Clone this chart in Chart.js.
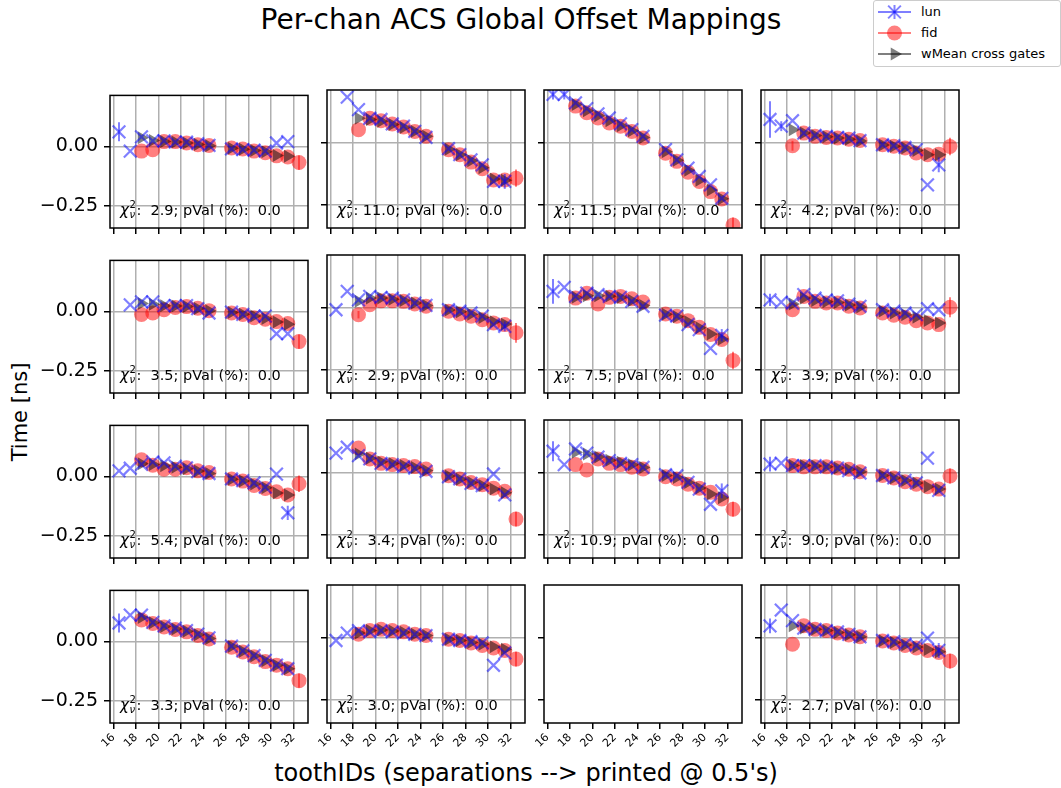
<!DOCTYPE html>
<html>
<head>
<meta charset="utf-8">
<title>Per-chan ACS Global Offset Mappings</title>
<script src="https://cdn.jsdelivr.net/npm/chart.js@4.4.1/dist/chart.umd.min.js"></script>
<style>
  html, body { margin: 0; padding: 0; background: #fff; }
  #fig { position: relative; width: 1061px; height: 788px; overflow: hidden; font-family: 'DejaVu Sans', sans-serif; color: #000; }
  #fig canvas.panel { position: absolute; }
  .lbl { position: absolute; white-space: nowrap; }
  #title { left: 0; width: 1042px; top: 4px; text-align: center; font-size: 28px; line-height: 32px; }
  #xlabel { left: 0; width: 1052px; top: 759px; text-align: center; font-size: 24px; line-height: 28px; }
  #ylabel { left: 20px; top: 412px; font-size: 21px; transform: translate(-50%, -50%) rotate(-90deg); }
  #legend { position: absolute; left: 873px; top: 0px; width: 186px; height: 65px; border: 1px solid #ccc; border-radius: 3px; background: rgba(255,255,255,0.8); }
  #legend canvas { position: absolute; left: 0; top: 0; }
  #legend .item { position: absolute; left: 47px; font-size: 13px; line-height: 13px; }
</style>
</head>
<body>
<div id="fig">
  <div id="title" class="lbl">Per-chan ACS Global Offset Mappings</div>
  <div id="xlabel" class="lbl">toothIDs (separations --&gt; printed @ 0.5's)</div>
  <div id="ylabel" class="lbl">Time [ns]</div>
  <div id="legend">
    <canvas id="legendHandles" width="46" height="65"></canvas>
    <div class="item" style="top:4px">lun</div>
    <div class="item" style="top:25px">fid</div>
    <div class="item" style="top:46px">wMean cross gates</div>
  </div>
</div>
<script>
// tooth separations (x), 25.5 is never filled
const teeth = [16.5, 17.5, 18.5, 19.5, 20.5, 21.5, 22.5, 23.5, 24.5, 25.5, 26.5, 27.5, 28.5, 29.5, 30.5, 31.5, 32.5];
const xTicks = [16, 18, 20, 22, 24, 26, 28, 30, 32];
const yTicks = [0, -0.25];

// one row per channel panel (row-major, 4x4); slot 14 is empty
const lunTimes = [
  [.061, -.020, .040, .023, .023, .018, .018, .011, .004, null, -.011, -.014, -.016, -.020, .014, .020, null],
  [null, .185, .135, .100, .095, .077, .068, .047, .023, null, -.023, -.047, -.068, -.088, -.155, -.155, null],
  [.196, .196, .162, .139, .118, .101, .077, .054, .027, null, -.027, -.068, -.101, -.135, -.169, -.223, null],
  [.095, .068, .090, .040, .031, .027, .023, .020, .010, null, -.007, -.011, -.018, -.027, -.169, -.088, null],
  [null, .027, .040, .040, .024, .024, .024, .011, -.007, null, -.003, -.013, -.020, -.020, -.094, -.094, null],
  [-.007, .067, .033, .047, .043, .040, .033, .020, .011, null, -.007, -.013, -.020, -.033, -.067, -.074, null],
  [.067, .083, .047, .060, .054, .047, .043, .027, .007, null, -.029, -.033, -.067, -.087, -.163, -.110, null],
  [.033, .024, .020, .054, .040, .033, .029, .016, .007, null, -.007, -.013, -.020, -.027, -.003, -.007, null],
  [.023, .034, .050, .061, .057, .043, .036, .020, .012, null, -.011, -.018, -.028, -.045, .009, -.153, null],
  [.080, .104, .070, .057, .039, .034, .026, .020, .007, null, -.015, -.024, -.042, -.051, -.004, -.088, null],
  [.088, .034, .097, .080, .064, .050, .039, .034, .023, null, -.007, -.011, -.038, -.065, -.126, -.072, null],
  [.036, .040, .030, .030, .030, .025, .020, .010, .000, null, -.010, -.020, -.030, -.040, .060, -.070, null],
  [.077, .110, .110, .080, .065, .055, .045, .030, .015, null, -.020, -.040, -.060, -.080, -.100, -.115, null],
  [-.010, .020, .030, .025, .030, .025, .020, .015, .010, null, -.005, -.010, -.015, -.020, -.110, -.060, null],
  null,
  [.049, .113, .070, .040, .035, .030, .025, .015, .005, null, -.010, -.015, -.025, -.030, .000, -.050, null]
];
const fidTimes = [
  [null, null, -.020, -.014, .020, .020, .014, .007, .004, null, -.007, -.011, -.020, -.027, -.040, -.045, -.068],
  [null, null, .054, .100, .090, .077, .065, .047, .027, null, -.027, -.047, -.077, -.104, -.149, -.149, -.142],
  [null, null, .149, .122, .101, .081, .068, .047, .020, null, -.041, -.074, -.118, -.155, -.196, -.226, -.331],
  [null, null, -.011, .040, .027, .022, .020, .015, .010, null, -.007, -.013, -.020, -.040, -.047, -.045, -.014],
  [null, null, -.013, -.007, .007, .016, .020, .013, .003, null, -.007, -.013, -.027, -.033, -.043, -.051, -.127],
  [null, null, -.027, .013, .029, .029, .027, .016, .007, null, -.013, -.024, -.033, -.047, -.060, -.067, -.100],
  [null, null, .040, .060, .016, .043, .047, .037, .024, null, -.024, -.033, -.051, -.078, -.107, -.127, -.212],
  [null, null, -.007, .047, .027, .020, .020, .007, .000, null, -.020, -.029, -.037, -.051, -.060, -.067, .003],
  [null, null, .070, .047, .030, .030, .036, .023, .016, null, -.011, -.020, -.038, -.051, -.065, -.078, -.031],
  [null, null, .101, .057, .039, .034, .030, .026, .016, null, -.011, -.024, -.038, -.047, -.061, -.074, -.186],
  [null, null, .034, .012, .057, .039, .034, .023, .016, null, -.015, -.024, -.045, -.061, -.078, -.105, -.146],
  [null, null, .030, .025, .025, .025, .020, .015, .005, null, -.010, -.020, -.035, -.045, -.055, -.065, -.012],
  [null, null, .090, .075, .060, .050, .040, .025, .010, null, -.025, -.045, -.065, -.085, -.100, -.115, -.165],
  [null, null, .015, .030, .035, .030, .025, .015, .010, null, -.005, -.010, -.020, -.030, -.040, -.050, -.085],
  null,
  [null, null, -.025, .050, .035, .030, .020, .012, .005, null, -.012, -.020, -.030, -.040, -.050, -.058, -.093]
];
const wMeanTimes = [
  [null, null, .036, .025, .020, .018, .014, .008, .003, null, -.008, -.012, -.017, -.023, -.038, -.042, null],
  [null, null, .100, .095, .088, .075, .063, .047, .027, null, -.025, -.047, -.072, -.100, -.145, -.150, null],
  [null, null, .155, .130, .110, .090, .070, .050, .022, null, -.035, -.070, -.110, -.150, -.190, -.225, null],
  [null, null, .054, .040, .030, .025, .020, .015, .008, null, -.008, -.013, -.020, -.030, -.047, -.047, null],
  [null, null, .033, .030, .024, .022, .020, .012, .002, null, -.005, -.012, -.020, -.030, -.045, -.054, null],
  [null, null, .027, .040, .040, .035, .030, .020, .010, null, -.008, -.015, -.025, -.038, -.055, -.065, null],
  [null, null, .043, .050, .050, .048, .042, .030, .010, null, -.025, -.035, -.055, -.080, -.105, -.125, null],
  [null, null, .016, .040, .030, .025, .022, .012, .004, null, -.012, -.020, -.027, -.037, -.050, -.060, null],
  [null, null, .053, .050, .045, .038, .032, .022, .012, null, -.012, -.020, -.032, -.048, -.070, -.078, null],
  [null, null, .077, .060, .045, .038, .030, .022, .010, null, -.012, -.025, -.038, -.050, -.065, -.080, null],
  [null, null, .084, .077, .065, .052, .043, .033, .022, null, -.010, -.018, -.038, -.060, -.085, -.100, null],
  [null, null, .030, .030, .028, .025, .020, .015, .005, null, -.010, -.020, -.030, -.040, -.055, -.065, null],
  [null, null, .100, .078, .062, .052, .042, .028, .012, null, -.022, -.042, -.062, -.082, -.100, -.115, null],
  [null, null, .020, .030, .032, .028, .023, .015, .010, null, -.005, -.010, -.018, -.025, -.035, -.045, null],
  null,
  [null, null, .050, .040, .035, .030, .022, .013, .005, null, -.011, -.018, -.028, -.036, -.046, -.055, null]
];
// visible error bars, keyed by index into teeth
const lunErrs = [
  {0: .04}, {15: .03}, {0: .02, 1: .02}, {0: .074, 1: .02, 15: .03},
  {}, {15: .02}, {0: .05, 15: .025}, {0: .025},
  {15: .03}, {}, {0: .04, 15: .03}, {0: .03},
  {0: .04}, {}, null, {0: .03, 15: .03}
];
const fidErrs = [
  {16: .03}, {16: .035}, {16: .03}, {2: .02, 16: .035},
  {16: .03}, {2: .015, 16: .04}, {16: .035}, {16: .04},
  {16: .035}, {16: .03}, {16: .03}, {16: .03},
  {16: .03}, {16: .03}, null, {16: .03}
];
const chi2 = [2.9, 11.0, 11.5, 4.2, 3.5, 2.9, 7.5, 3.9, 5.4, 3.4, 10.9, 9.0, 3.3, 3.0, null, 2.7];
const pVal = [0.0, 0.0, 0.0, 0.0, 0.0, 0.0, 0.0, 0.0, 0.0, 0.0, 0.0, 0.0, 0.0, 0.0, null, 0.0];

// figure geometry
const PANEL_LEFT = [110, 327, 544, 761];
const PANEL_TOP = [90, 255, 420, 585];
const PANEL_W = 198, PANEL_H = 138;
const PAD_L = 75, PAD_B = 45, PAD_T = 12, PAD_R = 12;

const BLUE = 'rgba(0,0,255,0.5)';
const RED = 'rgba(255,0,0,0.5)';
const BLACK = 'rgba(0,0,0,0.5)';

function toPoints(vals, errs) {
  const pts = [];
  teeth.forEach((t, i) => {
    if (vals[i] == null) return;
    pts.push({x: t, y: vals[i], e: errs ? errs[i] : undefined});
  });
  return pts;
}

function fmt41(v) {
  const s = v.toFixed(1);
  return s.length < 4 ? ' '.repeat(4 - s.length) + s : s;
}

// vertical error bars under each series' markers
const errBars = {
  id: 'errBars',
  beforeDatasetDraw(chart, args) {
    const ds = chart.data.datasets[args.index];
    if (!ds.barColor) return;
    const {ctx, chartArea: a, scales} = chart;
    ctx.save();
    ctx.beginPath();
    ctx.rect(a.left, a.top, a.right - a.left, a.bottom - a.top);
    ctx.clip();
    ctx.strokeStyle = ds.barColor;
    ctx.lineWidth = 2;
    ds.data.forEach(p => {
      if (!p.e) return;
      const x = scales.x.getPixelForValue(p.x);
      ctx.beginPath();
      ctx.moveTo(x, scales.y.getPixelForValue(p.y - p.e));
      ctx.lineTo(x, scales.y.getPixelForValue(p.y + p.e));
      ctx.stroke();
    });
    ctx.restore();
  }
};

// axes frame and the fit-quality note
const frame = {
  id: 'frame',
  afterDraw(chart, args, opts) {
    const {ctx, chartArea: a} = chart;
    ctx.save();
    ctx.strokeStyle = '#000';
    ctx.lineWidth = 1.5;
    ctx.strokeRect(a.left, a.top, a.right - a.left, a.bottom - a.top);
    if (opts.chi != null) {
      let x = a.left + 10;
      const y = a.bottom - 13;
      ctx.fillStyle = '#000';
      ctx.textBaseline = 'alphabetic';
      ctx.font = 'italic 15px "DejaVu Sans"';
      ctx.fillText('\u03c7', x, y);
      x += ctx.measureText('\u03c7').width + 0.5;
      ctx.font = '10px "DejaVu Sans"';
      ctx.fillText('2', x, y - 7);
      ctx.font = 'italic 10px "DejaVu Sans"';
      ctx.fillText('\u03bd', x, y + 3);
      x += 7;
      ctx.font = '14.5px "DejaVu Sans"';
      ctx.fillText(': ' + fmt41(opts.chi) + '; pVal (%): ' + fmt41(opts.p), x, y);
    }
    ctx.restore();
  }
};

function makePanel(idx) {
  const row = Math.floor(idx / 4), col = idx % 4;
  const empty = lunTimes[idx] == null;
  const canvas = document.createElement('canvas');
  canvas.className = 'panel';
  const w = PANEL_W + PAD_L + PAD_R, h = PANEL_H + PAD_T + PAD_B;
  canvas.width = w; canvas.height = h;
  canvas.style.width = w + 'px'; canvas.style.height = h + 'px';
  canvas.style.left = (PANEL_LEFT[col] - PAD_L) + 'px';
  canvas.style.top = (PANEL_TOP[row] - PAD_T) + 'px';
  document.getElementById('fig').appendChild(canvas);

  const datasets = empty ? [] : [
    {
      label: 'lun', data: toPoints(lunTimes[idx], lunErrs[idx]), barColor: BLUE,
      pointStyle: 'crossRot', pointRadius: 9, borderColor: BLUE, backgroundColor: BLUE,
      pointBorderWidth: 2.2, order: 0, clip: 0
    },
    {
      label: 'wMean cross gates', data: toPoints(wMeanTimes[idx]),
      pointStyle: 'triangle', pointRotation: 90, pointRadius: 7.5, backgroundColor: BLACK,
      borderColor: 'rgba(0,0,0,0)', pointBorderWidth: 0, order: 1, clip: 0
    },
    {
      label: 'fid', data: toPoints(fidTimes[idx], fidErrs[idx]), barColor: RED,
      pointStyle: 'circle', pointRadius: 7.5, backgroundColor: RED,
      borderColor: 'rgba(0,0,0,0)', pointBorderWidth: 0, order: 2, clip: 0
    }
  ];

  new Chart(canvas, {
    type: 'scatter',
    data: {datasets},
    plugins: [errBars, frame],
    options: {
      responsive: false,
      animation: false,
      events: [],
      layout: {padding: {top: PAD_T, right: PAD_R, left: 0, bottom: 0}},
      plugins: {
        legend: {display: false},
        tooltip: {enabled: false},
        frame: {chi: chi2[idx], p: pVal[idx]}
      },
      scales: {
        x: {
          type: 'linear', min: 15.7, max: 33.3,
          afterBuildTicks: s => { s.ticks = xTicks.map(v => ({value: v})); },
          afterFit: s => { s.height = PAD_B; },
          grid: {
            display: true, color: empty ? 'rgba(0,0,0,0)' : '#b0b0b0', lineWidth: 1.5,
            drawTicks: true, tickLength: 6, tickColor: '#000', tickWidth: 1.5
          },
          border: {display: false},
          ticks: {
            display: row === 3, minRotation: 45, maxRotation: 45, autoSkip: false,
            color: '#000', font: {family: 'DejaVu Sans', size: 11}, padding: 2
          }
        },
        y: {
          type: 'linear', min: -0.343, max: 0.214,
          afterBuildTicks: s => { s.ticks = yTicks.map(v => ({value: v})); },
          afterFit: s => { s.width = PAD_L; },
          grid: {
            display: true, color: empty ? 'rgba(0,0,0,0)' : '#b0b0b0', lineWidth: 1.5,
            drawTicks: true, tickLength: 6, tickColor: '#000', tickWidth: 1.5
          },
          border: {display: false},
          ticks: {
            display: col === 0, color: '#000', padding: 6,
            font: {family: 'DejaVu Sans', size: 19},
            callback: v => (v < 0 ? '\u2212' : '') + Math.abs(v).toFixed(2)
          }
        }
      }
    }
  });
}

for (let i = 0; i < 16; i++) makePanel(i);

// legend handles: error-bar style line with each series marker
(function drawLegend() {
  const ctx = document.getElementById('legendHandles').getContext('2d');
  const rows = [
    {y: 11, color: BLUE, style: 'crossRot', r: 9, bw: 2, vbar: true},
    {y: 32, color: RED, style: 'circle', r: 7.5, bw: 0},
    {y: 53, color: BLACK, style: 'triangle', r: 7.5, bw: 0, rot: 90}
  ];
  rows.forEach(h => {
    ctx.strokeStyle = h.color;
    ctx.fillStyle = h.color;
    ctx.lineWidth = 2;
    ctx.beginPath();
    ctx.moveTo(4, h.y); ctx.lineTo(37, h.y);
    ctx.stroke();
    if (h.vbar) {
      ctx.beginPath();
      ctx.moveTo(20.5, h.y - 7); ctx.lineTo(20.5, h.y + 7);
      ctx.stroke();
    }
    Chart.helpers.drawPoint(ctx, {pointStyle: h.style, radius: h.r, rotation: h.rot || 0, borderWidth: h.bw}, 20.5, h.y);
  });
})();
</script>
</body>
</html>
